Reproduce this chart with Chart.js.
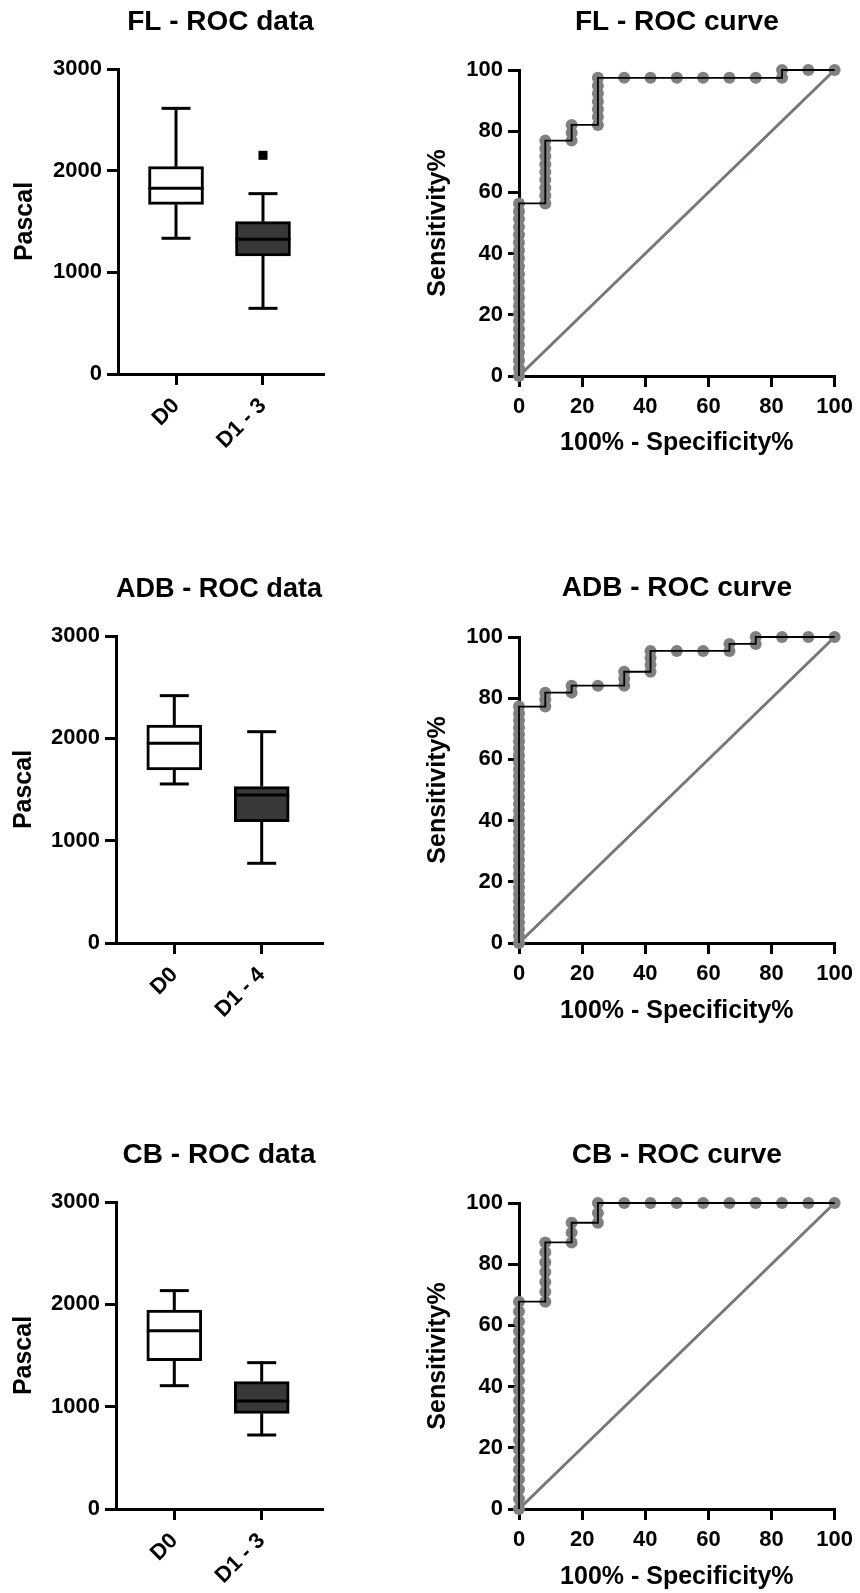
<!DOCTYPE html>
<html>
<head>
<meta charset="utf-8">
<script src="https://cdn.jsdelivr.net/npm/chart.js@4.4.0/dist/chart.umd.min.js"></script>
<style>
  html, body { margin: 0; padding: 0; background: #fff; }
  body { width: 860px; height: 1593px; position: relative; overflow: hidden; }
  canvas { position: absolute; }
</style>
</head>
<body>
<canvas id="flBox" width="350" height="470" style="left:0px;top:0px"></canvas>
<canvas id="flRoc" width="450" height="470" style="left:410px;top:0px"></canvas>
<canvas id="adbBox" width="350" height="470" style="left:0px;top:560px"></canvas>
<canvas id="adbRoc" width="450" height="477" style="left:410px;top:560px"></canvas>
<canvas id="cbBox" width="350" height="463" style="left:0px;top:1130px"></canvas>
<canvas id="cbRoc" width="450" height="463" style="left:410px;top:1130px"></canvas>
<script>
// ---- box plot data (Pascal) ----
const pascalTicks = [0, 1000, 2000, 3000];

const flCats = ['D0', 'D1 - 3'];
const flMin = [1335, 646];
const flQ1 = [1669, 1161];
const flMed = [1827, 1325];
const flQ3 = [2039, 1498];
const flMax = [2613, 1774];
const flOutX = [1];
const flOutY = [2151];

const adbCats = ['D0', 'D1 - 4'];
const adbMin = [1554, 779];
const adbQ1 = [1691, 1186];
const adbMed = [1951, 1446];
const adbQ3 = [2130, 1528];
const adbMax = [2417, 2065];

const cbCats = ['D0', 'D1 - 3'];
const cbMin = [1205, 723];
const cbQ1 = [1449, 935];
const cbMed = [1743, 1055];
const cbQ3 = [1945, 1244];
const cbMax = [2134, 1430];

// ---- ROC data (100% - Specificity%, Sensitivity%) ----
const rocTicks = [0, 20, 40, 60, 80, 100];
const diagX = [0, 100];
const diagY = [0, 100];

const flFpr = [
  0, 0, 0, 0, 0, 0, 0, 0, 0, 0, 0, 0, 0, 0, 0, 0, 0, 0, 0, 0, 0, 0, 0,
  8.33, 8.33, 8.33, 8.33, 8.33, 8.33, 8.33, 8.33, 8.33,
  16.67, 16.67, 16.67,
  25, 25, 25, 25, 25, 25, 25,
  33.33, 41.67, 50, 58.33, 66.67, 75, 83.33, 83.33, 91.67, 100
];
const flSens = [
  0, 2.56, 5.13, 7.69, 10.26, 12.82, 15.38, 17.95, 20.51, 23.08, 25.64, 28.21, 30.77,
  33.33, 35.9, 38.46, 41.03, 43.59, 46.15, 48.72, 51.28, 53.85, 56.41,
  56.41, 58.97, 61.54, 64.1, 66.67, 69.23, 71.79, 74.36, 76.92,
  76.92, 79.49, 82.05,
  82.05, 84.62, 87.18, 89.74, 92.31, 94.87, 97.44,
  97.44, 97.44, 97.44, 97.44, 97.44, 97.44, 97.44, 100, 100, 100
];

const adbFpr = [
  0, 0, 0, 0, 0, 0, 0, 0, 0, 0, 0, 0, 0, 0, 0, 0, 0, 0, 0, 0, 0, 0, 0, 0, 0,
  0, 0, 0, 0, 0, 0, 0, 0, 0, 0,
  8.33, 8.33, 8.33,
  16.67, 16.67,
  25,
  33.33, 33.33, 33.33,
  41.67, 41.67, 41.67, 41.67,
  50, 58.33, 66.67, 66.67, 75, 75, 83.33, 91.67, 100
];
const adbSens = [
  0, 2.27, 4.55, 6.82, 9.09, 11.36, 13.64, 15.91, 18.18, 20.45, 22.73, 25, 27.27,
  29.55, 31.82, 34.09, 36.36, 38.64, 40.91, 43.18, 45.45, 47.73, 50, 52.27, 54.55,
  56.82, 59.09, 61.36, 63.64, 65.91, 68.18, 70.45, 72.73, 75, 77.27,
  77.27, 79.55, 81.82,
  81.82, 84.09,
  84.09,
  84.09, 86.36, 88.64,
  88.64, 90.91, 93.18, 95.45,
  95.45, 95.45, 95.45, 97.73, 97.73, 100, 100, 100, 100
];

const cbFpr = [
  0, 0, 0, 0, 0, 0, 0, 0, 0, 0, 0, 0, 0, 0, 0, 0, 0, 0, 0, 0, 0, 0,
  8.33, 8.33, 8.33, 8.33, 8.33, 8.33, 8.33,
  16.67, 16.67, 16.67,
  25, 25, 25,
  33.33, 41.67, 50, 58.33, 66.67, 75, 83.33, 91.67, 100
];
const cbSens = [
  0, 3.23, 6.45, 9.68, 12.9, 16.13, 19.35, 22.58, 25.81, 29.03, 32.26, 35.48, 38.71,
  41.94, 45.16, 48.39, 51.61, 54.84, 58.06, 61.29, 64.52, 67.74,
  67.74, 70.97, 74.19, 77.42, 80.65, 83.87, 87.1,
  87.1, 90.32, 93.55,
  93.55, 96.77, 100,
  100, 100, 100, 100, 100, 100, 100, 100, 100
];

Chart.defaults.font.family = "'Liberation Sans', Arial, Helvetica, sans-serif";
Chart.defaults.font.weight = 'bold';
Chart.defaults.color = '#000';
Chart.defaults.animation = false;

// draws whiskers, caps and median on top of the floating bars
const boxExtras = {
  id: 'boxExtras',
  afterDatasetsDraw(chart) {
    const ds = chart.data.datasets[0];
    if (!ds.stats) return;
    const y = chart.scales.y;
    const ctx = chart.ctx;
    const cap = 14.5;
    ctx.save();
    ctx.strokeStyle = '#000';
    ctx.lineWidth = 3;
    const seg = (x1, y1, x2, y2) => { ctx.beginPath(); ctx.moveTo(x1, y1); ctx.lineTo(x2, y2); ctx.stroke(); };
    chart.getDatasetMeta(0).data.forEach((bar, i) => {
      const { x, width } = bar.getProps(['x', 'width'], true);
      const s = ds.stats;
      const pMax = y.getPixelForValue(s.max[i]);
      const pMin = y.getPixelForValue(s.min[i]);
      const pQ3 = y.getPixelForValue(s.q3[i]);
      const pQ1 = y.getPixelForValue(s.q1[i]);
      const pMed = y.getPixelForValue(s.med[i]);
      seg(x, pQ3, x, pMax);
      seg(x - cap, pMax, x + cap, pMax);
      seg(x, pQ1, x, pMin);
      seg(x - cap, pMin, x + cap, pMin);
      seg(x - width / 2, pMed, x + width / 2, pMed);
    });
    ctx.restore();
  }
};

function axisLook() {
  return {
    grid: { drawOnChartArea: false, drawTicks: true, offset: false, tickLength: 11, lineWidth: 3, color: '#000', tickWidth: 3, tickColor: '#000' },
    border: { display: true, width: 3, color: '#000' }
  };
}

function boxChart(id, title, cats, min, q1, med, q3, max, outX, outY, lay) {
  const datasets = [{
    type: 'bar',
    data: cats.map((c, i) => ({ x: i, y: [q1[i], q3[i]] })),
    stats: { min, q1, med, q3, max },
    backgroundColor: ['#ffffff', '#383838'],
    borderColor: '#000',
    borderWidth: 3,
    borderSkipped: false,
    barThickness: 55
  }];
  if (outX.length) {
    datasets.push({
      type: 'scatter',
      data: outX.map((v, i) => ({ x: v, y: outY[i] })),
      pointStyle: 'rect',
      pointRadius: 6.4,
      backgroundColor: '#000',
      borderWidth: 0
    });
  }
  return new Chart(document.getElementById(id), {
    type: 'bar',
    data: { datasets },
    plugins: [boxExtras],
    options: {
      responsive: false,
      layout: { padding: { left: 0, top: 0, right: lay.padR, bottom: 0 } },
      plugins: {
        legend: { display: false },
        tooltip: { enabled: false },
        title: { display: true, text: title, fullSize: false, font: { size: 28 }, padding: lay.titlePad }
      },
      scales: {
        x: Object.assign(axisLook(), {
          type: 'linear', min: -0.667, max: 1.69, offset: false,
          afterBuildTicks: s => { s.ticks = cats.map((c, i) => ({ value: i })); },
          afterFit: s => { s.height = lay.hx; },
          ticks: { callback: v => cats[v], minRotation: 45, maxRotation: 45, autoSkip: false, padding: 8, font: { size: 22 } }
        }),
        y: Object.assign(axisLook(), {
          min: 0, max: 3000,
          afterBuildTicks: s => { s.ticks = pascalTicks.map(v => ({ value: v })); },
          afterFit: s => { s.width = lay.wy; },
          ticks: { callback: v => String(v), padding: 5, font: { size: 22 } },
          title: { display: true, text: 'Pascal', font: { size: 25 }, padding: { top: lay.yTitlePad, bottom: 0 } }
        })
      }
    }
  });
}

function rocChart(id, title, fpr, sens, lay) {
  const pts = fpr.map((v, i) => ({ x: v, y: sens[i] }));
  return new Chart(document.getElementById(id), {
    type: 'scatter',
    data: {
      datasets: [
        { data: pts, showLine: true, borderColor: '#000', borderWidth: 1.8, pointRadius: 0, tension: 0, clip: false },
        { data: pts, showLine: false, pointRadius: 6, backgroundColor: '#808080', borderWidth: 0, clip: false },
        { data: diagX.map((v, i) => ({ x: v, y: diagY[i] })), showLine: true, borderColor: '#7b7575', borderWidth: 3, pointRadius: 0, clip: false }
      ]
    },
    options: {
      responsive: false,
      layout: { padding: { left: 0, top: 0, right: lay.padR, bottom: 0 } },
      plugins: {
        legend: { display: false },
        tooltip: { enabled: false },
        title: { display: true, text: title, fullSize: false, font: { size: 28 }, padding: lay.titlePad }
      },
      scales: {
        x: Object.assign(axisLook(), {
          type: 'linear', min: 0, max: 100,
          afterBuildTicks: s => { s.ticks = rocTicks.map(v => ({ value: v })); },
          afterFit: s => { s.height = lay.hx; },
          ticks: { padding: 7, font: { size: 22 }, maxRotation: 0 },
          title: { display: true, text: '100% - Specificity%', font: { size: 25 }, padding: { top: 0, bottom: lay.xTitlePad } }
        }),
        y: Object.assign(axisLook(), {
          type: 'linear', min: 0, max: 100,
          afterBuildTicks: s => { s.ticks = rocTicks.map(v => ({ value: v })); },
          afterFit: s => { s.width = lay.wy; },
          ticks: { padding: 5, font: { size: 22 } },
          title: { display: true, text: 'Sensitivity%', font: { size: 25 }, padding: { top: lay.yTitlePad, bottom: 0 } }
        })
      }
    }
  });
}

boxChart('flBox', 'FL - ROC data', flCats, flMin, flQ1, flMed, flQ3, flMax, flOutX, flOutY,
  { padR: 27, wy: 118, hx: 96, titlePad: { top: 5.2, bottom: 30.2 }, yTitlePad: 10 });
rocChart('flRoc', 'FL - ROC curve', flFpr, flSens,
  { padR: 25, wy: 109, hx: 94, titlePad: { top: 5.7, bottom: 30.7 }, yTitlePad: 13, xTitlePad: 12 });

boxChart('adbBox', 'ADB - ROC data', adbCats, adbMin, adbQ1, adbMed, adbQ3, adbMax, [], [],
  { padR: 28, wy: 116, hx: 87, titlePad: { top: 12.2, bottom: 30.2 }, yTitlePad: 9 });
rocChart('adbRoc', 'ADB - ROC curve', adbFpr, adbSens,
  { padR: 25, wy: 109, hx: 94, titlePad: { top: 11.2, bottom: 32.2 }, yTitlePad: 13, xTitlePad: 11 });

boxChart('cbBox', 'CB - ROC data', cbCats, cbMin, cbQ1, cbMed, cbQ3, cbMax, [], [],
  { padR: 28, wy: 116, hx: 84, titlePad: { top: 8.2, bottom: 30.2 }, yTitlePad: 9 });
rocChart('cbRoc', 'CB - ROC curve', cbFpr, cbSens,
  { padR: 25, wy: 109, hx: 84, titlePad: { top: 8.2, bottom: 31.2 }, yTitlePad: 13, xTitlePad: 1 });
</script>
</body>
</html>
